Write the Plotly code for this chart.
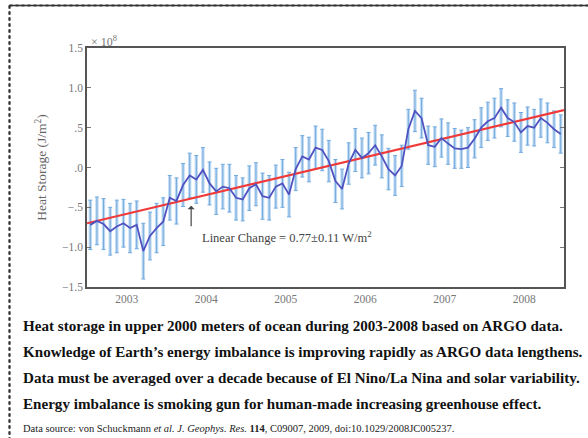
import plotly.graph_objects as go

# ---------------- data (monthly, 2003-2008) ----------------
years = [2003, 2004, 2005, 2006, 2007, 2008]
heat_2003 = [-0.72, -0.67, -0.71, -0.80, -0.74, -0.70, -0.76, -0.72, -1.05, -0.86, -0.76, -0.68]
heat_2004 = [-0.38, -0.42, -0.22, -0.10, -0.15, -0.03, -0.20, -0.30, -0.24, -0.26, -0.38, -0.40]
heat_2005 = [-0.26, -0.21, -0.36, -0.38, -0.24, -0.20, -0.34, -0.02, 0.14, 0.10, 0.25, 0.22]
heat_2006 = [0.08, -0.17, -0.27, 0.05, 0.22, 0.12, 0.18, 0.28, 0.14, -0.02, -0.10, 0.02]
heat_2007 = [0.48, 0.71, 0.62, 0.28, 0.26, 0.37, 0.30, 0.24, 0.23, 0.25, 0.36, 0.50]
heat_2008 = [0.58, 0.62, 0.75, 0.62, 0.57, 0.44, 0.52, 0.50, 0.62, 0.56, 0.48, 0.42]

err_2003 = [0.31, 0.30, 0.32, 0.30, 0.33, 0.30, 0.31, 0.30, 0.35, 0.30, 0.31, 0.30]
err_2004 = [0.28, 0.29, 0.27, 0.28, 0.30, 0.28, 0.27, 0.29, 0.28, 0.30, 0.28, 0.27]
err_2005 = [0.28, 0.27, 0.29, 0.28, 0.27, 0.30, 0.28, 0.27, 0.26, 0.28, 0.27, 0.26]
err_2006 = [0.26, 0.27, 0.25, 0.26, 0.27, 0.25, 0.26, 0.25, 0.27, 0.26, 0.25, 0.26]
err_2007 = [0.25, 0.26, 0.25, 0.24, 0.25, 0.24, 0.26, 0.25, 0.24, 0.25, 0.24, 0.25]
err_2008 = [0.24, 0.25, 0.24, 0.23, 0.24, 0.25, 0.24, 0.23, 0.24, 0.25, 0.23, 0.24]

trend_x = [2003.0, 2009.0]
trend_y = [-0.70, 0.72]

year_bounds = [2004, 2005, 2006, 2007, 2008]
ytick_vals = [1.5, 1.0, 0.5, 0.0, -0.5, -1.0, -1.5]
ytick_text = ["1.5", "1.0", ".5", ".0", "\u2212.5", "\u22121.0", "\u22121.5"]
xtick_vals = [2003.5, 2004.5, 2005.5, 2006.5, 2007.5, 2008.5]
xtick_text = ["2003", "2004", "2005", "2006", "2007", "2008"]

captions = [
    "Heat storage in upper 2000 meters of ocean during 2003-2008 based on ARGO data.",
    "Knowledge of Earth\u2019s energy imbalance is improving rapidly as ARGO data lengthens.",
    "Data must be averaged over a decade because of El Nino/La Nina and solar variability.",
    "Energy imbalance is smoking gun for human-made increasing greenhouse effect.",
]
source_text = ("Data source: von Schuckmann <i>et al. J. Geophys. Res.</i> <b>114</b>, "
               "C09007, 2009, doi:10.1029/2008JC005237.")

# ---------------- build series ----------------
heat = heat_2003 + heat_2004 + heat_2005 + heat_2006 + heat_2007 + heat_2008
err = err_2003 + err_2004 + err_2005 + err_2006 + err_2007 + err_2008
t = [years[0] + (i + 0.5) / 12.0 for i in range(len(heat))]

W, H = 588, 438
L, R, T, B = 87, 24, 48, 151
PW, PH = W - L - R, H - T - B

def px(xp):
    return (xp - L) / PW

def py(yp):
    return (H - B - yp) / PH

SERIF = "Liberation Serif, Times New Roman, serif"

fig = go.Figure()

# light wide error bars
fig.add_trace(go.Scatter(
    x=t, y=heat, mode="markers", marker=dict(size=0.1, color="rgba(0,0,0,0)"),
    error_y=dict(type="data", array=err, visible=True, color="#c2dbf3", thickness=3.4, width=0),
    showlegend=False, hoverinfo="skip"))
# thin darker error bars with caps
fig.add_trace(go.Scatter(
    x=t, y=heat, mode="markers", marker=dict(size=0.1, color="rgba(0,0,0,0)"),
    error_y=dict(type="data", array=err, visible=True, color="#72aade", thickness=1.0, width=2),
    showlegend=False, hoverinfo="skip"))
# trend line
fig.add_trace(go.Scatter(x=trend_x, y=trend_y, mode="lines",
                         line=dict(color="#f03a3a", width=2.2), showlegend=False))
# data line
fig.add_trace(go.Scatter(x=t, y=heat, mode="lines",
                         line=dict(color="#5052c0", width=1.8), showlegend=False))

for yb in year_bounds:
    fig.add_vline(x=yb, line=dict(color="#777777", width=1.2, dash="3px,3px"), layer="below")
fig.add_hline(y=0, line=dict(color="#8a8a8a", width=1.2), layer="below")

fig.update_xaxes(range=[2003, 2009], tickvals=xtick_vals, ticktext=xtick_text,
                 showgrid=False, zeroline=False, showline=True, mirror=True,
                 linecolor="#555555", linewidth=1.5, ticks="", automargin=False,
                 tickfont=dict(family=SERIF, size=11.5, color="#777777"))
fig.update_yaxes(range=[-1.5, 1.5], tickvals=ytick_vals, ticktext=ytick_text,
                 showgrid=False, zeroline=False, showline=True, mirror="ticks",
                 linecolor="#555555", linewidth=1.5, ticks="inside", ticklen=4,
                 tickcolor="#777777", automargin=False,
                 tickfont=dict(family=SERIF, size=11.5, color="#777777"),
                 title=dict(text="Heat Storage (J/m<sup>2</sup>)", standoff=12,
                            font=dict(family=SERIF, size=13.5, color="#666666")))

ann = []
ann.append(dict(xref="paper", yref="paper", x=px(89), y=py(41), xanchor="left", yanchor="middle",
                text="\u00d7 10<sup>8</sup>", showarrow=False,
                font=dict(family=SERIF, size=12, color="#777777")))
ann.append(dict(xref="x", yref="y", x=2004.31, y=-0.48, ax=0, ay=22, text="",
                showarrow=True, arrowhead=1, arrowsize=1, arrowwidth=1.2, arrowcolor="#444444"))
ann.append(dict(xref="paper", yref="paper", x=px(287), y=py(237), xanchor="center", yanchor="middle",
                text="Linear Change = 0.77\u00b10.11 W/m<sup>2</sup>", showarrow=False,
                font=dict(family=SERIF, size=12.5, color="#444444")))
cap_y = [326, 352, 378, 404]
for c, yp in zip(captions, cap_y):
    ann.append(dict(xref="paper", yref="paper", x=px(21), y=py(yp), xanchor="left", yanchor="middle",
                    text="<b>" + c + "</b>", showarrow=False,
                    font=dict(family=SERIF, size=15.1, color="#111111")))
ann.append(dict(xref="paper", yref="paper", x=px(21), y=py(428), xanchor="left", yanchor="middle",
                text=source_text, showarrow=False,
                font=dict(family=SERIF, size=10.5, color="#222222")))

frame = dict(color="#333333", width=1.6)
fig.update_layout(
    width=W, height=H, margin=dict(l=L, r=R, t=T, b=B, autoexpand=False),
    paper_bgcolor="white", plot_bgcolor="white", showlegend=False,
    annotations=ann,
    shapes=[
        dict(type="line", xref="paper", yref="paper", x0=px(9.5), x1=px(9.5),
             y0=py(5.5), y1=py(H), line=frame, layer="below"),
        dict(type="line", xref="paper", yref="paper", x0=px(9.5), x1=px(W),
             y0=py(5.5), y1=py(5.5), line=frame, layer="below"),
    ],
)

fig.write_html("out.html", config={"displayModeBar": False},
               post_script="document.body.style.margin='0px';document.body.style.overflow='hidden';")
